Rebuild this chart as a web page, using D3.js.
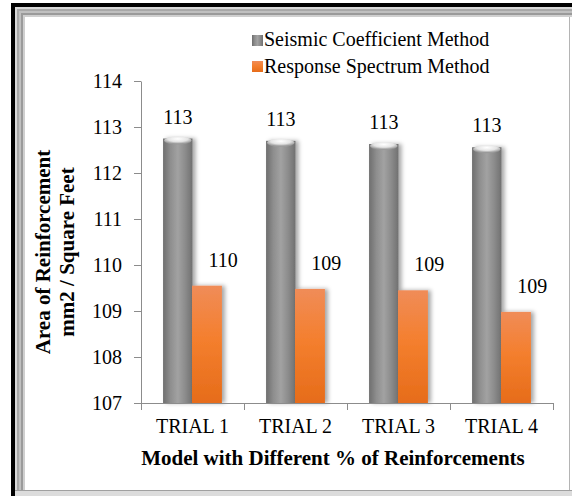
<!DOCTYPE html>
<html>
<head>
<meta charset="utf-8">
<script src="https://cdn.jsdelivr.net/npm/d3@7"></script>
<style>
  body { margin: 0; background: #fff; }
  svg { display: block; }
  svg text { font-family: "Liberation Serif", "Times New Roman", serif; fill: #000; }
</style>
</head>
<body>
<div id="chart"></div>
<script>
const trials = ["TRIAL 1", "TRIAL 2", "TRIAL 3", "TRIAL 4"];
const seismic = [112.75, 112.70, 112.63, 112.56];
const spectrum = [109.55, 109.48, 109.45, 108.98];
const seriesNames = ["Seismic Coefficient Method", "Response Spectrum Method"];
const yTicks = [107, 108, 109, 110, 111, 112, 113, 114];

const width = 572, height = 496;
const serif = "Liberation Serif, Times New Roman, serif";

const svg = d3.select("#chart").append("svg")
    .attr("width", width)
    .attr("height", height);

const defs = svg.append("defs");

// cylinder look for the grey bars
const greyGrad = defs.append("linearGradient").attr("id", "greyGrad")
    .attr("x1", "0%").attr("x2", "100%").attr("y1", "0%").attr("y2", "0%");
[["0%", "#6e6e6e"], ["25%", "#8e8e8e"], ["50%", "#a2a2a2"], ["75%", "#8c8c8c"], ["100%", "#707070"]]
    .forEach(s => greyGrad.append("stop").attr("offset", s[0]).attr("stop-color", s[1]));

const capGrad = defs.append("radialGradient").attr("id", "capGrad")
    .attr("cx", "50%").attr("cy", "30%").attr("r", "60%");
[["0%", "#ffffff"], ["60%", "#e4e4e4"], ["100%", "#9a9a9a"]]
    .forEach(s => capGrad.append("stop").attr("offset", s[0]).attr("stop-color", s[1]));

const orangeGrad = defs.append("linearGradient").attr("id", "orangeGrad")
    .attr("x1", "0%").attr("x2", "0%").attr("y1", "0%").attr("y2", "100%");
[["0%", "#f08c58"], ["45%", "#f47f2e"], ["100%", "#e66c1a"]]
    .forEach(s => orangeGrad.append("stop").attr("offset", s[0]).attr("stop-color", s[1]));

const shadow = defs.append("filter").attr("id", "shadow")
    .attr("x", "-30%").attr("y", "-10%").attr("width", "160%").attr("height", "120%");
shadow.append("feDropShadow").attr("dx", 3).attr("dy", 0).attr("stdDeviation", 2)
    .attr("flood-color", "#000").attr("flood-opacity", 0.35);

// frame
const frameShades = ["#d8d8d8", "#a8a8a8", "#c0c0c0", "#9a9a9a", "#cfcfcf"];
frameShades.forEach((c, i) => {
    svg.append("line").attr("x1", 15 + i * 2 + 1).attr("x2", 15 + i * 2 + 1)
        .attr("y1", 7 + i * 2).attr("y2", 490).attr("stroke", c).attr("stroke-width", 2);
    svg.append("line").attr("x1", 15 + i * 2).attr("x2", width)
        .attr("y1", 7 + i * 2 + 1).attr("y2", 7 + i * 2 + 1).attr("stroke", c).attr("stroke-width", 2);
});
svg.append("rect").attr("x", 15).attr("y", 490).attr("width", width).attr("height", 6).attr("fill", "#dcdcdc");
svg.append("line").attr("x1", 15).attr("x2", width).attr("y1", 490.5).attr("y2", 490.5).attr("stroke", "#a0a0a0");
svg.append("line").attr("x1", 569.5).attr("x2", 569.5).attr("y1", 17).attr("y2", 490).attr("stroke", "#b4b4b4");
svg.append("rect").attr("x", 11).attr("y", 3).attr("width", width - 11).attr("height", 4).attr("fill", "#000");
svg.append("rect").attr("x", 11).attr("y", 3).attr("width", 4).attr("height", height - 3).attr("fill", "#000");

// scales
const x = d3.scaleBand().domain(trials).range([141, 553]);
const xSub = d3.scaleBand().domain(seriesNames).range([0, x.bandwidth()]).paddingOuter(0.75);
const y = d3.scaleLinear().domain([107, 114]).range([403, 81]);

// y axis
const yAxis = svg.append("g")
    .attr("transform", "translate(141,0)")
    .call(d3.axisLeft(y).tickValues(yTicks).tickFormat(d3.format("d"))
        .tickSize(7).tickSizeOuter(0).tickPadding(12));
yAxis.attr("font-family", serif).attr("font-size", 20);
yAxis.select(".domain").attr("stroke", "#8c8c8c");
yAxis.selectAll(".tick line").attr("stroke", "#8c8c8c");
yAxis.selectAll(".tick text").attr("fill", "#000");

// bars
const groups = svg.append("g").selectAll("g")
    .data(trials)
    .join("g")
    .attr("transform", d => `translate(${x(d)},0)`);

const bw = xSub.bandwidth();

groups.append("rect")
    .attr("x", xSub(seriesNames[0]))
    .attr("y", (d, i) => y(seismic[i]))
    .attr("width", bw)
    .attr("height", (d, i) => y(107) - y(seismic[i]))
    .attr("fill", "url(#greyGrad)")
    .attr("filter", "url(#shadow)");

groups.append("ellipse")
    .attr("cx", xSub(seriesNames[0]) + bw / 2)
    .attr("cy", (d, i) => y(seismic[i]) + 2)
    .attr("rx", bw / 2 - 1)
    .attr("ry", 4)
    .attr("fill", "url(#capGrad)");

groups.append("rect")
    .attr("x", xSub(seriesNames[1]) - 0.5)
    .attr("y", (d, i) => y(spectrum[i]))
    .attr("width", bw + 0.5)
    .attr("height", (d, i) => y(107) - y(spectrum[i]))
    .attr("fill", "url(#orangeGrad)")
    .attr("filter", "url(#shadow)");

// value labels
const fmt = d3.format(".0f");
groups.append("text")
    .attr("x", xSub(seriesNames[0]) + bw / 2)
    .attr("y", (d, i) => y(seismic[i]) - 15)
    .attr("text-anchor", "middle")
    .attr("font-family", serif)
    .attr("font-size", 20)
    .text((d, i) => fmt(seismic[i]));

groups.append("text")
    .attr("x", xSub(seriesNames[1]) + bw / 2 + 16)
    .attr("y", (d, i) => y(spectrum[i]) - 19)
    .attr("text-anchor", "middle")
    .attr("font-family", serif)
    .attr("font-size", 20)
    .text((d, i) => fmt(spectrum[i]));

// x axis
svg.append("line")
    .attr("x1", 141).attr("x2", 553)
    .attr("y1", 403.5).attr("y2", 403.5)
    .attr("stroke", "#8c8c8c");
svg.append("g").selectAll("line")
    .data(trials.map(d => x(d)).concat([x.range()[1]]))
    .join("line")
    .attr("x1", d => d + 0.5).attr("x2", d => d + 0.5)
    .attr("y1", 403).attr("y2", 410)
    .attr("stroke", "#8c8c8c");
svg.append("g").selectAll("text")
    .data(trials)
    .join("text")
    .attr("x", d => x(d) + x.bandwidth() / 2)
    .attr("y", 433)
    .attr("text-anchor", "middle")
    .attr("font-family", serif)
    .attr("font-size", 20)
    .text(d => d);

// titles
svg.append("text")
    .attr("x", 333).attr("y", 465)
    .attr("text-anchor", "middle")
    .attr("font-family", serif)
    .attr("font-size", 21).attr("font-weight", "bold")
    .text("Model with Different % of Reinforcements");

const yTitle = svg.append("text")
    .attr("transform", "rotate(-90)")
    .attr("text-anchor", "middle")
    .attr("font-family", serif)
    .attr("font-size", 21).attr("font-weight", "bold");
yTitle.append("tspan").attr("x", -252).attr("y", 50).text("Area of Reinforcement");
yTitle.append("tspan").attr("x", -252).attr("y", 74).text("mm2 / Square Feet");

// legend
const legend = svg.append("g");
const legendFill = ["url(#greyGrad)", "url(#orangeGrad)"];
seriesNames.forEach((name, i) => {
    legend.append("rect")
        .attr("x", 252).attr("y", 35 + i * 26)
        .attr("width", 11).attr("height", 11)
        .attr("fill", legendFill[i]);
    legend.append("text")
        .attr("x", 264).attr("y", 46 + i * 27)
        .attr("font-family", serif)
        .attr("font-size", 20)
        .text(name);
});
</script>
</body>
</html>
